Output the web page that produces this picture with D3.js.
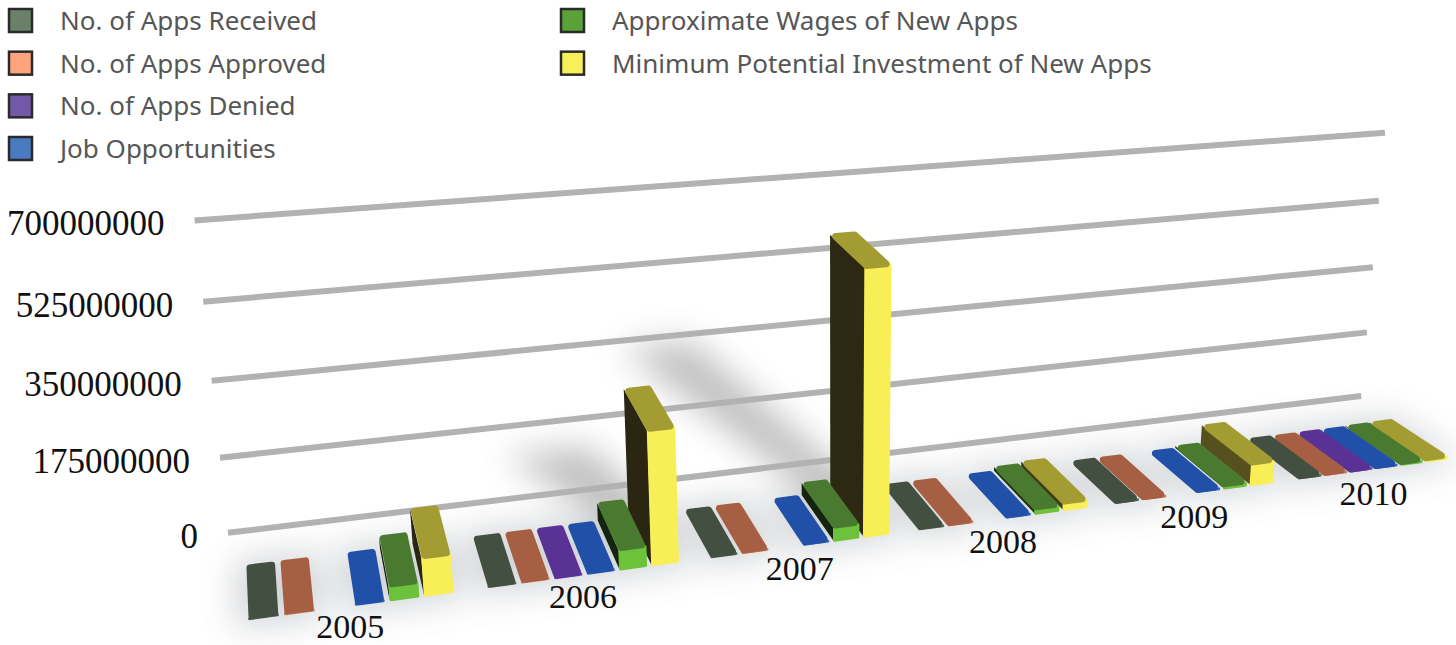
<!DOCTYPE html>
<html>
<head>
<meta charset="utf-8">
<script src="https://cdn.jsdelivr.net/npm/d3@7"></script>
<style>
  html, body { margin: 0; background: #fff; }
  svg { display: block; }
  .tick-label, .year-label { font-family: "Liberation Serif", serif; fill: #111; }
  .legend-label { font-family: "Noto Sans", sans-serif; fill: #565656; }
</style>
</head>
<body>
<svg id="chart" width="1456" height="645"></svg>
<script>
// Yearly program figures (counts and dollars share one axis, so counts stay near zero)
const years = ["2005", "2006", "2007", "2008", "2009", "2010"];
const seriesNames = [
  "No. of Apps Received", "No. of Apps Approved", "No. of Apps Denied",
  "Job Opportunities", "Approximate Wages of New Apps", "Minimum Potential Investment of New Apps"
];
const appsReceived = [330, 490, 780, 1260, 1030, 1960];
const appsApproved = [210, 340, 640, 930, 800, 1370];
const appsDenied = [0, 80, 0, 0, 0, 160];
const jobOpportunities = [4500, 9000, 13000, 14000, 16000, 24000];
const approxWages = [29000000, 43000000, 30000000, 10000000, 5000000, 2000000];
const minInvestment = [82000000, 302000000, 610000000, 15000000, 51000000, 3000000];
const tickValues = [0, 175000000, 350000000, 525000000, 700000000];

const seriesValues = [appsReceived, appsApproved, appsDenied, jobOpportunities, approxWages, minInvestment];
const topColors = ["#434f41", "#a65f42", "#5a3296", "#2050a8", "#497a2f", "#a39c33"];
const frontColors = ["#56655a", "#c77a55", "#6f48b0", "#3568c0", "#6cc23a", "#f8ee56"];
const sideColors = ["#20281f", "#4d2a1c", "#2a1748", "#102858", "#14240e", "#2a2611"];
const legendColors = ["#6b8069", "#fda47d", "#7159a8", "#4a7abf", "#5aa13a", "#f8f05a"];

// Three-point perspective: floor plane set by four corners, verticals meeting far below
const corners = { f0: [248, 620], f1: [1448, 459], b1: [1390, 421], b0: [246, 565] };
const vanish = [835, 6220];

const den = (corners.f1[0] - corners.b1[0]) * (corners.b0[1] - corners.b1[1])
          - (corners.b0[0] - corners.b1[0]) * (corners.f1[1] - corners.b1[1]);
const sx = corners.f0[0] - corners.f1[0] + corners.b1[0] - corners.b0[0];
const sy = corners.f0[1] - corners.f1[1] + corners.b1[1] - corners.b0[1];
const pg = (sx * (corners.b0[1] - corners.b1[1]) - (corners.b0[0] - corners.b1[0]) * sy) / den;
const ph = ((corners.f1[0] - corners.b1[0]) * sy - sx * (corners.f1[1] - corners.b1[1])) / den;
const matX = [corners.f1[0] - corners.f0[0] + pg * corners.f1[0], corners.b0[0] - corners.f0[0] + ph * corners.b0[0], corners.f0[0]];
const matY = [corners.f1[1] - corners.f0[1] + pg * corners.f1[1], corners.b0[1] - corners.f0[1] + ph * corners.b0[1], corners.f0[1]];

// Height scale: value to the homogeneous lift along the vertical axis
const zScale = d3.scaleLinear().domain([0, 700000000]).range([0, 0.0572]);

function project(u, d, value) {
  const w = pg * u + ph * d + 1;
  const t = zScale(value || 0);
  const x = matX[0] * u + matX[1] * d + matX[2];
  const y = matY[0] * u + matY[1] * d + matY[2];
  return [(x - t * vanish[0]) / (w - t), (y - t * vanish[1]) / (w - t)];
}

// Slot layout along the width of the floor
const groupStep = 6.87, barSlots = 0.86;
const slotTotal = (years.length - 1) * groupStep + (seriesNames.length - 1) + barSlots;
const uScale = d3.scaleLinear().domain([0, slotTotal / 2, slotTotal]).range([0, 0.4975, 1]);
const wallDepth = 1.685;
const wallLeft = -0.0126, wallRight = 1.0085;

const svg = d3.select("#chart");
const defs = svg.append("defs");
defs.append("filter").attr("id", "halo").attr("filterUnits", "userSpaceOnUse")
  .attr("x", 100).attr("y", 330).attr("width", 1356).attr("height", 315)
  .append("feGaussianBlur").attr("stdDeviation", 17);
defs.append("filter").attr("id", "cast").attr("filterUnits", "userSpaceOnUse")
  .attr("x", 300).attr("y", 200).attr("width", 800).attr("height", 500)
  .append("feGaussianBlur").attr("stdDeviation", 17);

const polygon = pts => pts.map(p => p.join(",")).join(" ");
const sideTint = d3.scaleLinear().domain([0.45, 1.05]).range([0, 0.6]).clamp(true);

// Flatten the table into one record per drawn bar
const bars = [];
years.forEach((year, g) => {
  seriesValues.forEach((values, s) => {
    if (values[g] > 0) {
      const slot = g * groupStep + s;
      bars.push({ g, s, value: values[g], u0: uScale(slot), u1: uScale(slot + barSlots) });
    }
  });
});

// Soft floor shading under every bar
svg.append("g").attr("filter", "url(#halo)").attr("opacity", 0.3)
  .selectAll("polygon").data(bars).join("polygon")
  .attr("fill", "#6d7680")
  .attr("points", b => polygon([
    project(b.u0 - 0.008, -0.12, 0), project(b.u1 + 0.008, -0.12, 0),
    project(b.u1 + 0.008, 1.1, 0), project(b.u0 - 0.008, 1.1, 0)
  ]));

// Cast shadows of the tall bars stretching back across the floor
const shadowBars = bars.filter(b => b.value > 100000000);
const shadowReach = d3.scalePow().exponent(1.2).domain([0, 700000000]).range([0, 5.4]);
const shadowDrift = d3.scalePow().exponent(0.5).domain([0, 700000000]).range([0, -0.08]);
svg.append("g").attr("filter", "url(#cast)").attr("opacity", 0.42)
  .selectAll("polygon").data(shadowBars).join("polygon")
  .attr("fill", "#666")
  .attr("points", b => {
    const reach = shadowReach(b.value), drift = shadowDrift(b.value);
    return polygon([
      project(b.u0 - 0.01, 0.7, 0), project(b.u1 + 0.01, 0.7, 0),
      project(b.u1 + drift + 0.025, 0.7 + reach, 0), project(b.u0 + drift - 0.025, 0.7 + reach, 0)
    ]);
  });

// Gridlines on the back plane
svg.append("g").selectAll("line").data(tickValues).join("line")
  .attr("x1", v => project(wallLeft, wallDepth, v)[0])
  .attr("y1", v => project(wallLeft, wallDepth, v)[1])
  .attr("x2", v => project(wallRight, wallDepth, v)[0])
  .attr("y2", v => project(wallRight, wallDepth, v)[1])
  .attr("stroke", "#b2b2b2").attr("stroke-width", 6);

// Value labels beside the gridlines
svg.append("g").selectAll("text").data(tickValues).join("text")
  .attr("class", "tick-label")
  .attr("x", v => project(wallLeft, wallDepth, v)[0] - 30)
  .attr("y", v => project(wallLeft, wallDepth, v)[1] + 15)
  .attr("text-anchor", "end").attr("font-size", 35)
  .text(v => v);

// Bars painted right to left so nearer ones overlap the ones behind them
const insetU = 0.0028, insetD = 0.065;
const barOrder = bars.slice().sort((a, b) => b.u0 - a.u0);
const barNodes = svg.append("g").selectAll("g").data(barOrder).join("g");

barNodes.append("polygon")
  .attr("fill", b => d3.interpolateRgb(sideColors[b.s], topColors[b.s])(sideTint(b.u0)))
  .attr("points", b => polygon([
    project(b.u0, 0.01, 0), project(b.u0, 1, 0), project(b.u0, 1, b.value), project(b.u0, 0.01, b.value)
  ]));

barNodes.append("polygon")
  .attr("fill", b => frontColors[b.s]).attr("stroke", b => frontColors[b.s])
  .attr("stroke-width", 3).attr("stroke-linejoin", "round")
  .attr("points", b => polygon([
    project(b.u0 + 0.001, 0.02, 0), project(b.u1 - 0.001, 0.02, 0),
    project(b.u1 - 0.001, 0.02, b.value), project(b.u0 + 0.001, 0.02, b.value)
  ]));

barNodes.append("polygon")
  .attr("fill", b => topColors[b.s]).attr("stroke", b => topColors[b.s])
  .attr("stroke-width", 7).attr("stroke-linejoin", "round")
  .attr("points", b => polygon([
    project(b.u0 + insetU, insetD, b.value), project(b.u1 - insetU, insetD, b.value),
    project(b.u1 - insetU, 1 - insetD, b.value), project(b.u0 + insetU, 1 - insetD, b.value)
  ]));

// Year labels below each group
const yearDrop = d3.scaleLinear().domain([0, years.length - 1]).range([32, 36]);
const yearSlot = 2.87;
svg.append("g").selectAll("text").data(years).join("text")
  .attr("class", "year-label")
  .attr("x", (y, g) => project(uScale(g * groupStep + yearSlot), 0, 0)[0])
  .attr("y", (y, g) => project(uScale(g * groupStep + yearSlot), 0, 0)[1] + yearDrop(g))
  .attr("text-anchor", "middle").attr("font-size", 34)
  .text(y => y);

// Legend in two columns
const legendRows = d3.scaleLinear().domain([0, 3]).range([21, 149]);
const legendItems = seriesNames.map((name, i) => ({
  name, color: legendColors[i], col: i < 4 ? 0 : 1, row: i < 4 ? i : i - 4
}));
const legendX = [[9, 60], [561, 612]];
const legend = svg.append("g").selectAll("g").data(legendItems).join("g");
legend.append("rect")
  .attr("x", d => legendX[d.col][0]).attr("y", d => legendRows(d.row) - 12)
  .attr("width", 23).attr("height", 23)
  .attr("fill", d => d.color).attr("stroke", "#2a2a2a").attr("stroke-width", 2.5);
legend.append("text")
  .attr("class", "legend-label")
  .attr("x", d => legendX[d.col][1]).attr("y", d => legendRows(d.row) + 9)
  .attr("font-size", 26)
  .text(d => d.name);
</script>
</body>
</html>
